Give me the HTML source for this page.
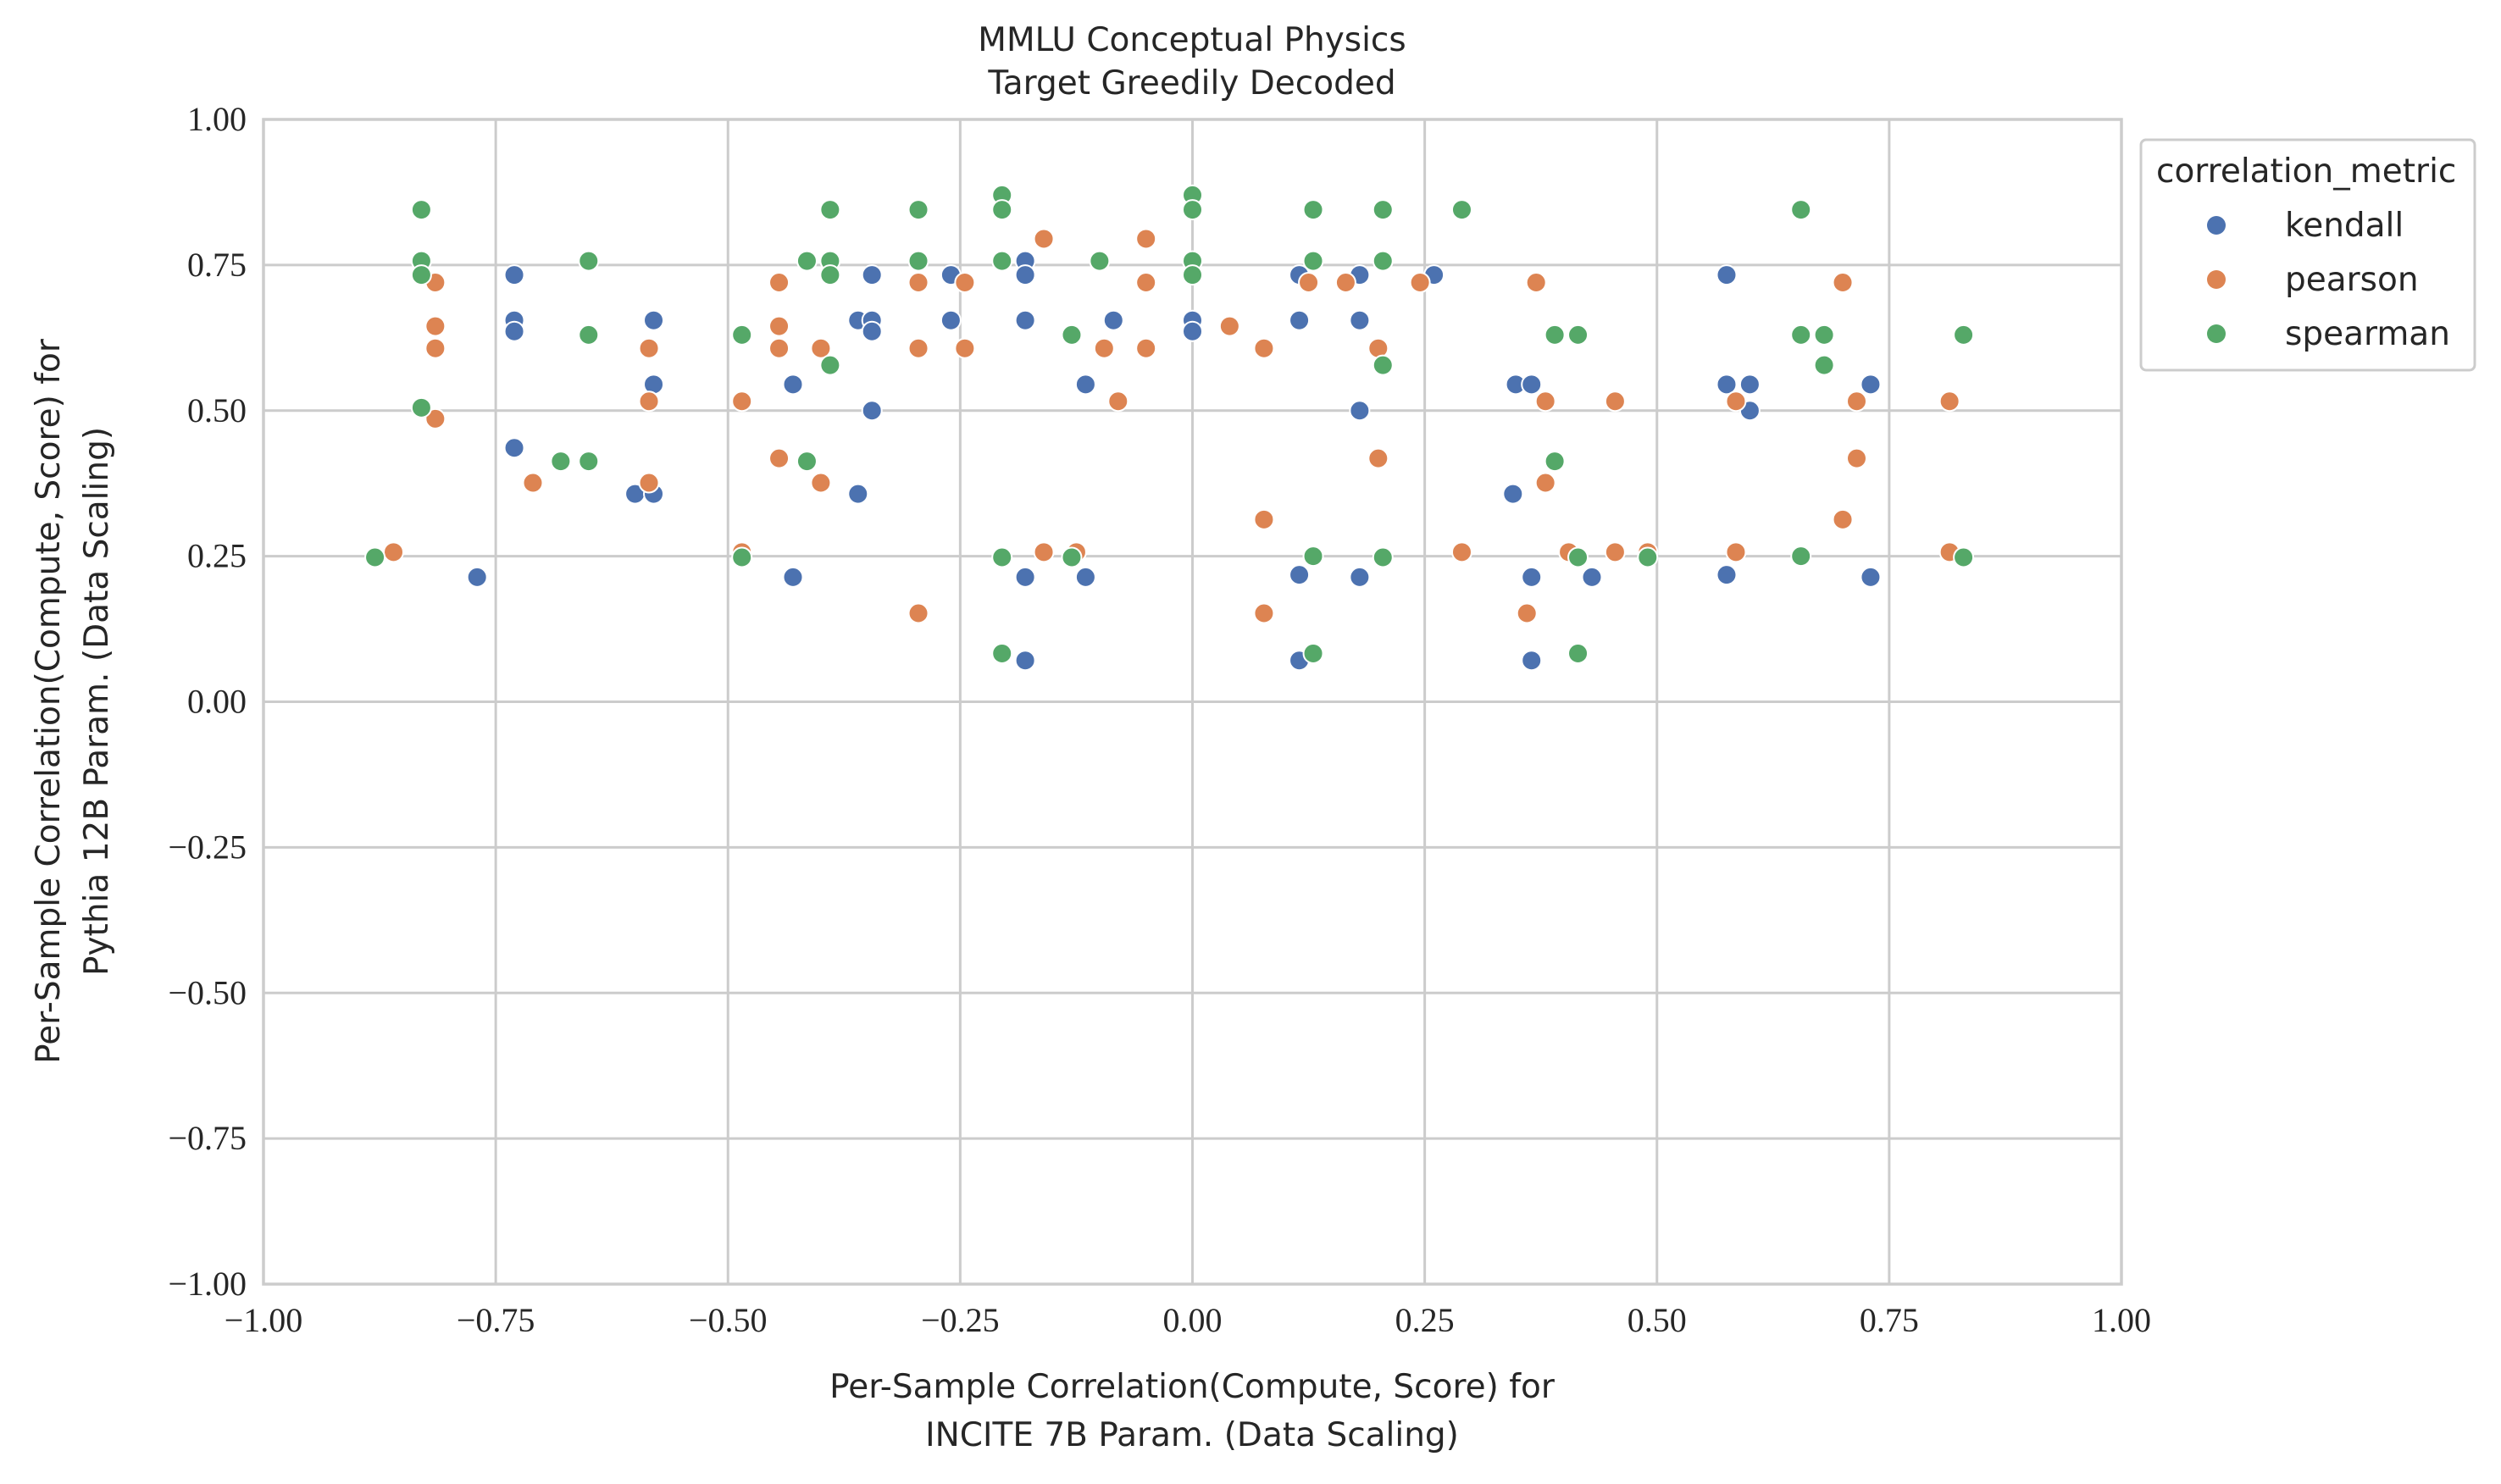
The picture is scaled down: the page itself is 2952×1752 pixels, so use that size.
<!DOCTYPE html>
<html><head><meta charset="utf-8"><style>
html,body{margin:0;padding:0;background:#fff;}
svg{display:block;}
.tick{font-family:"Liberation Serif",serif;font-size:40px;fill:#262626;}
.lab{font-family:"DejaVu Sans","Liberation Sans",sans-serif;font-size:39px;fill:#262626;}
</style></head><body>
<svg id="chart" width="2952" height="1752" viewBox="0 0 2952 1752" xmlns="http://www.w3.org/2000/svg">
<g id="grid"></g>
<g id="marks"></g>
<rect x="311" y="141" width="2193" height="1375" fill="none" stroke="#cccccc" stroke-width="3.5"/>
<g id="ticks"></g>
<text class="lab" x="1407" y="60" text-anchor="middle">MMLU Conceptual Physics</text>
<text class="lab" x="1407" y="111" text-anchor="middle">Target Greedily Decoded</text>
<text class="lab" x="1407" y="1650" text-anchor="middle">Per-Sample Correlation(Compute, Score) for</text>
<text class="lab" x="1407" y="1707" text-anchor="middle">INCITE 7B Param. (Data Scaling)</text>
<g transform="translate(70,828) rotate(-90)">
<text class="lab" x="0" y="0" text-anchor="middle">Per-Sample Correlation(Compute, Score) for</text>
<text class="lab" x="0" y="57" text-anchor="middle">Pythia 12B Param. (Data Scaling)</text>
</g>
<g>
<rect x="2527" y="165" width="394" height="272" rx="6" fill="#fff" stroke="#cccccc" stroke-width="3"/>
<text class="lab" x="2545" y="215">correlation_metric</text>
<circle cx="2616" cy="266" r="11" fill="#4c72b0"/>
<text class="lab" x="2697" y="279">kendall</text>
<circle cx="2616" cy="330" r="11" fill="#dd8452"/>
<text class="lab" x="2697" y="343">pearson</text>
<circle cx="2616" cy="394" r="11" fill="#55a868"/>
<text class="lab" x="2697" y="407">spearman</text>
</g>
</svg>
<script>
const xTicks=[-1,-0.75,-0.5,-0.25,0,0.25,0.5,0.75,1];
const yTicks=[-1,-0.75,-0.5,-0.25,0,0.25,0.5,0.75,1];
const kendallX=[-0.77,-0.73,-0.73,-0.73,-0.73,-0.6,-0.58,-0.58,-0.58,-0.43,-0.43,-0.36,-0.36,-0.345,-0.345,-0.345,-0.345,-0.26,-0.26,-0.18,-0.18,-0.18,-0.18,-0.18,-0.115,-0.115,-0.085,0,0,0.115,0.115,0.115,0.115,0.18,0.18,0.18,0.18,0.26,0.348,0.345,0.365,0.365,0.365,0.43,0.575,0.575,0.575,0.6,0.6,0.73,0.73];
const kendallY=[0.214,0.733,0.655,0.636,0.436,0.357,0.357,0.545,0.655,0.545,0.214,0.655,0.357,0.733,0.655,0.636,0.5,0.733,0.655,0.757,0.733,0.655,0.214,0.071,0.545,0.214,0.655,0.655,0.636,0.733,0.655,0.218,0.071,0.733,0.655,0.5,0.214,0.733,0.545,0.357,0.545,0.214,0.071,0.214,0.733,0.545,0.218,0.545,0.5,0.545,0.214];
const pearsonX=[-0.86,-0.815,-0.815,-0.815,-0.815,-0.71,-0.585,-0.585,-0.585,-0.485,-0.485,-0.445,-0.445,-0.445,-0.445,-0.4,-0.4,-0.295,-0.295,-0.295,-0.245,-0.245,-0.16,-0.16,-0.125,-0.095,-0.08,-0.05,-0.05,-0.05,0.04,0.077,0.077,0.077,0.125,0.165,0.2,0.2,0.245,0.29,0.36,0.37,0.38,0.38,0.405,0.455,0.455,0.49,0.585,0.585,0.7,0.7,0.715,0.715,0.815,0.815];
const pearsonY=[0.257,0.72,0.645,0.607,0.486,0.376,0.607,0.516,0.376,0.516,0.257,0.72,0.645,0.607,0.418,0.607,0.376,0.72,0.607,0.152,0.72,0.607,0.795,0.257,0.257,0.607,0.516,0.795,0.72,0.607,0.645,0.607,0.313,0.152,0.72,0.72,0.607,0.418,0.72,0.257,0.152,0.72,0.516,0.376,0.257,0.516,0.257,0.257,0.516,0.257,0.72,0.313,0.516,0.418,0.516,0.257];
const spearmanX=[-0.88,-0.83,-0.83,-0.83,-0.83,-0.65,-0.65,-0.65,-0.68,-0.485,-0.485,-0.415,-0.415,-0.39,-0.39,-0.39,-0.39,-0.295,-0.295,-0.205,-0.205,-0.205,-0.205,-0.205,-0.13,-0.13,-0.1,0,0,0,0,0.13,0.13,0.13,0.13,0.205,0.205,0.205,0.205,0.29,0.39,0.39,0.415,0.415,0.415,0.49,0.655,0.655,0.655,0.68,0.68,0.83,0.83];
const spearmanY=[0.248,0.845,0.757,0.733,0.505,0.757,0.63,0.413,0.413,0.63,0.248,0.757,0.413,0.845,0.757,0.733,0.578,0.845,0.757,0.87,0.845,0.757,0.248,0.083,0.63,0.248,0.757,0.87,0.845,0.757,0.733,0.845,0.757,0.25,0.083,0.845,0.757,0.578,0.248,0.845,0.63,0.413,0.63,0.248,0.083,0.248,0.845,0.63,0.25,0.63,0.578,0.63,0.248];

const NS='http://www.w3.org/2000/svg';
const X0=311,X1=2504,Y0=1516,Y1=141;
function sx(v){return X0+(v+1)/2*(X1-X0);}
function sy(v){return Y0-(v+1)/2*(Y0-Y1);}
function fmt(v){return (v<0?'\u2212':'')+Math.abs(v).toFixed(2);}
const grid=document.getElementById('grid'),ticks=document.getElementById('ticks'),marks=document.getElementById('marks');
xTicks.forEach(function(t){
  const l=document.createElementNS(NS,'line');
  l.setAttribute('x1',sx(t));l.setAttribute('x2',sx(t));l.setAttribute('y1',Y1);l.setAttribute('y2',Y0);
  l.setAttribute('stroke','#cccccc');l.setAttribute('stroke-width','3');
  
  
  grid.appendChild(l);
  const tx=document.createElementNS(NS,'text');
  tx.setAttribute('class','tick');tx.setAttribute('x',sx(t));tx.setAttribute('y',Y0+56);tx.setAttribute('text-anchor','middle');
  tx.textContent=fmt(t);
  
  
  ticks.appendChild(tx);
});
yTicks.forEach(function(t){
  const l=document.createElementNS(NS,'line');
  l.setAttribute('x1',X0);l.setAttribute('x2',X1);l.setAttribute('y1',sy(t));l.setAttribute('y2',sy(t));
  l.setAttribute('stroke','#cccccc');l.setAttribute('stroke-width','3');
  
  
  grid.appendChild(l);
  const tx=document.createElementNS(NS,'text');
  tx.setAttribute('class','tick');tx.setAttribute('x',X0-20);tx.setAttribute('y',sy(t)+13);tx.setAttribute('text-anchor','end');
  tx.textContent=fmt(t);
  
  
  ticks.appendChild(tx);
});
function drawSeries(xs,ys,color,name){
  for(let i=0;i<xs.length;i++){
    const c=document.createElementNS(NS,'circle');
    c.setAttribute('cx',sx(xs[i]));c.setAttribute('cy',sy(ys[i]));c.setAttribute('r','11.5');
    c.setAttribute('fill',color);c.setAttribute('stroke','#ffffff');c.setAttribute('stroke-width','2');
    
    
    marks.appendChild(c);
  }
}
drawSeries(kendallX,kendallY,'#4c72b0','kendall');
drawSeries(pearsonX,pearsonY,'#dd8452','pearson');
drawSeries(spearmanX,spearmanY,'#55a868','spearman');
</script>
</body></html>
